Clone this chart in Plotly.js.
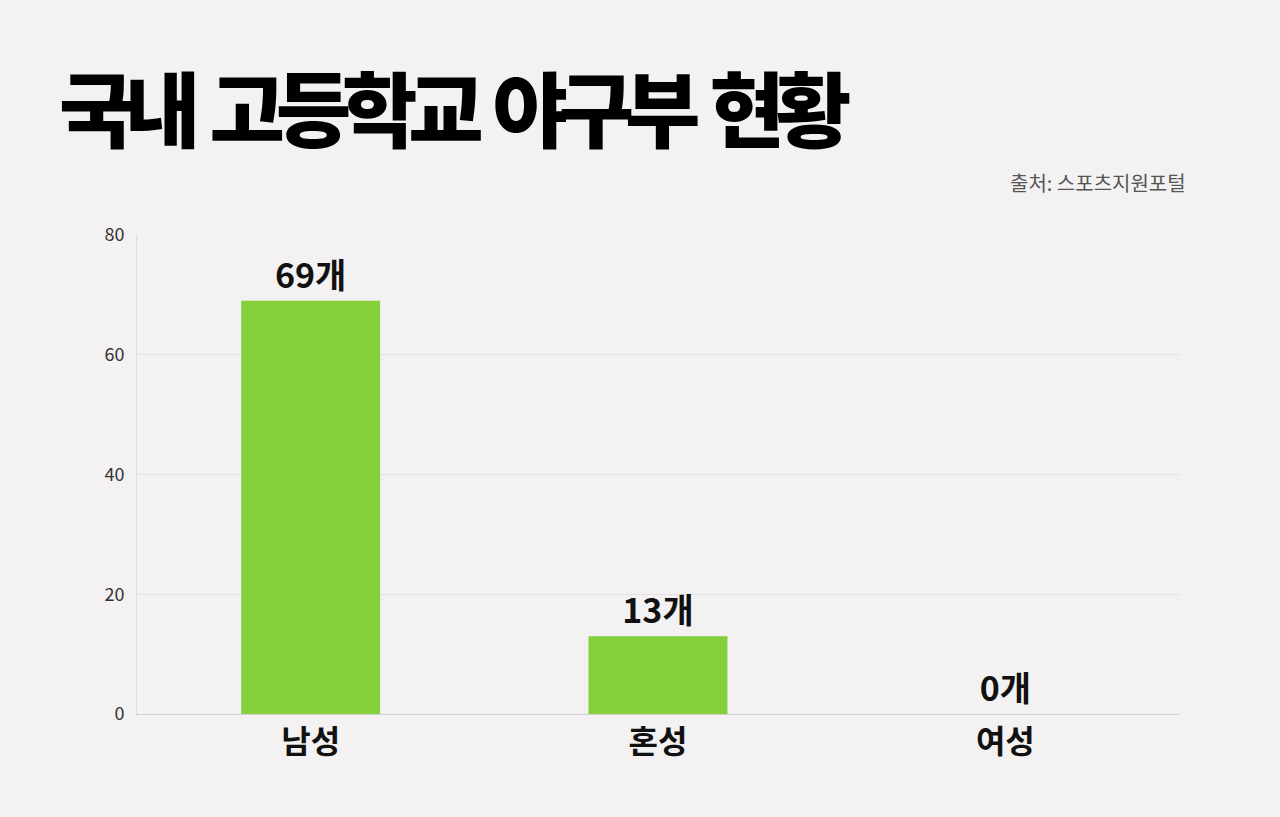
<!DOCTYPE html>
<html>
<head>
<meta charset="utf-8">
<script src="https://cdn.plot.ly/plotly-3.0.1.min.js"></script>
<style>
  html, body { margin: 0; padding: 0; background: #f3f1f2; }
  #chart { width: 1280px; height: 817px; }
  .gtitle { letter-spacing: -9.2px; }
</style>
</head>
<body>
<div id="chart"></div>
<script>
// 국내 고등학교 야구부 현황 (출처: 스포츠지원포털)
let categories = ["남성", "혼성", "여성"];
let counts = [69, 13, 0];
let labels = counts.map(function (v) { return v + "개"; });
let yTicks = [0, 20, 40, 60, 80];

let font = "'Noto Sans CJK KR', 'Noto Sans', sans-serif";

var trace = {
  x: categories,
  y: counts,
  type: "bar",
  text: labels,
  textposition: "outside",
  cliponaxis: false,
  textfont: { family: font, size: 34, color: "#111111", weight: 700 },
  marker: { color: "#84cf3a" },
  width: 0.4,
  hoverinfo: "none"
};

var layout = {
  width: 1280,
  height: 817,
  paper_bgcolor: "#f3f1f2",
  plot_bgcolor: "#f3f1f2",
  margin: { l: 137, r: 101, t: 235, b: 103 },
  showlegend: false,
  title: {
    // three-per-em spaces keep the word gaps under the tight letter-spacing
    text: "국내\u2004고등학교\u2004야구부\u2004현황",
    font: { family: font, size: 82, color: "#000000", weight: 900 },
    xref: "container",
    yref: "container",
    x: 0.046,
    xanchor: "left",
    y: 0.862,
    yanchor: "middle"
  },
  xaxis: {
    type: "category",
    tickfont: { family: font, size: 32, color: "#111111", weight: 700 },
    showline: true,
    linecolor: "#d2d0d1",
    linewidth: 1,
    ticks: "",
    showgrid: false
  },
  yaxis: {
    range: [0, 80],
    tickvals: yTicks,
    tickfont: { family: font, size: 18, color: "#333333" },
    showline: true,
    linecolor: "#dedcdd",
    gridcolor: "#e3e1e2",
    zeroline: false,
    ticks: "",
    ticklabelstandoff: 8
  },
  annotations: [{
    text: "출처: 스포츠지원포털",
    xref: "paper",
    yref: "paper",
    x: 1,
    xshift: 9,
    xanchor: "right",
    y: 1.109,
    yanchor: "middle",
    showarrow: false,
    font: { family: font, size: 20, color: "#555555" }
  }]
};

Plotly.newPlot("chart", [trace], layout, { displayModeBar: false, staticPlot: true });
</script>
</body>
</html>
